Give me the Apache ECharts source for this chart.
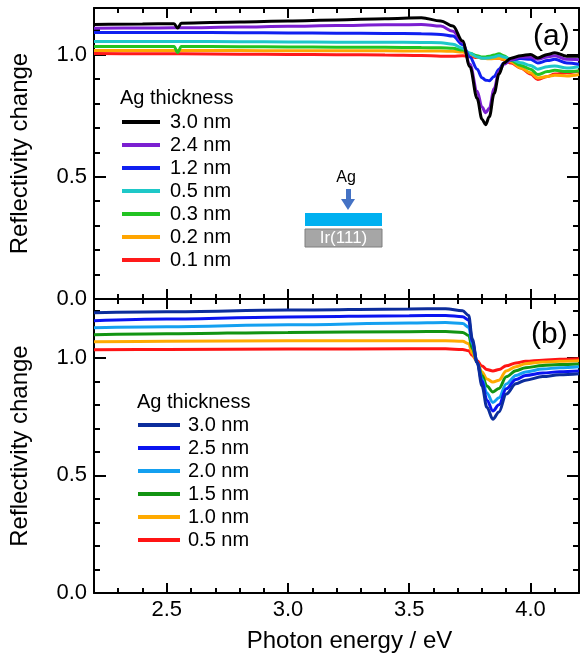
<!DOCTYPE html>
<html>
<head>
<meta charset="utf-8">
<script src="https://cdn.jsdelivr.net/npm/echarts@6/dist/echarts.min.js"></script>
<style>html,body{margin:0;padding:0;background:#fff}#c{width:581px;height:656px}</style>
</head>
<body>
<div id="c"></div>
<script>
// ---------- data ----------
const topE = [2.2, 2.4, 2.53, 2.545, 2.56, 2.8, 3.0, 3.2, 3.4, 3.55, 3.63, 3.68, 3.72, 3.75, 3.78, 3.80, 3.815, 3.83, 3.85, 3.87, 3.89, 3.92, 3.96, 4.0, 4.03, 4.07, 4.1, 4.15, 4.2];
const topNames = ['3.0 nm', '2.4 nm', '1.2 nm', '0.5 nm', '0.3 nm', '0.2 nm', '0.1 nm'];
const top30 = [1.123,1.125,1.126,1.108,1.128,1.133,1.137,1.141,1.146,1.150,1.137,1.116,1.055,0.95,0.82,0.735,0.713,0.745,0.84,0.92,0.965,0.985,0.995,1.0,0.986,1.0,1.007,0.993,0.993];
const top24 = [1.107,1.108,1.109,1.109,1.109,1.112,1.115,1.118,1.121,1.123,1.116,1.095,1.05,0.96,0.85,0.785,0.762,0.78,0.86,0.93,0.96,0.978,0.99,0.99,0.98,0.99,0.995,0.98,0.978];
const top12 = [1.090,1.090,1.090,1.090,1.090,1.089,1.088,1.087,1.086,1.085,1.082,1.075,1.04,0.99,0.94,0.905,0.895,0.893,0.91,0.94,0.965,0.978,0.983,0.98,0.965,0.975,0.98,0.965,0.96];
const top05 = [1.053,1.053,1.053,1.053,1.053,1.052,1.051,1.050,1.050,1.049,1.048,1.042,1.025,1.005,0.99,0.985,0.985,0.986,0.99,0.996,0.99,0.98,0.966,0.955,0.94,0.95,0.953,0.945,0.95];
const top03 = [1.033,1.033,1.033,1.008,1.033,1.032,1.031,1.030,1.029,1.028,1.027,1.025,1.018,1.005,0.995,0.99,0.99,0.993,0.998,1.003,0.995,0.975,0.955,0.94,0.918,0.93,0.935,0.93,0.932];
const top02 = [1.016,1.016,1.016,1.016,1.016,1.016,1.015,1.015,1.015,1.014,1.014,1.013,1.01,1.0,0.99,0.985,0.983,0.982,0.983,0.985,0.98,0.97,0.945,0.925,0.904,0.91,0.915,0.912,0.918];
const top01 = [1.004,1.003,1.003,1.003,1.003,1.001,1.0,0.999,0.998,0.996,0.993,0.993,0.995,0.992,0.988,0.986,0.986,0.986,0.985,0.985,0.978,0.965,0.945,0.92,0.898,0.91,0.92,0.925,0.932];

const botE = [2.2, 2.5, 3.0, 3.5, 3.65, 3.72, 3.745, 3.76, 3.78, 3.80, 3.82, 3.845, 3.87, 3.90, 3.94, 3.98, 4.05, 4.12, 4.2];
const botNames = ['3.0 nm', '2.5 nm', '2.0 nm', '1.5 nm', '1.0 nm', '0.5 nm'];
const bot30 = [1.192,1.196,1.203,1.208,1.209,1.20,1.18,1.08,0.98,0.88,0.79,0.739,0.77,0.846,0.89,0.905,0.92,0.928,0.932];
const bot25 = [1.158,1.165,1.174,1.179,1.18,1.175,1.16,1.07,0.98,0.90,0.82,0.774,0.80,0.868,0.908,0.925,0.935,0.941,0.944];
const bot20 = [1.128,1.132,1.14,1.148,1.15,1.146,1.13,1.06,0.98,0.91,0.85,0.81,0.83,0.889,0.925,0.94,0.952,0.958,0.962];
const bot15 = [1.098,1.102,1.108,1.111,1.112,1.108,1.095,1.04,0.98,0.925,0.88,0.855,0.87,0.919,0.945,0.958,0.967,0.971,0.974];
const bot10 = [1.068,1.07,1.072,1.073,1.073,1.07,1.06,1.02,0.98,0.94,0.91,0.897,0.905,0.944,0.962,0.975,0.982,0.985,0.987];
const bot05 = [1.034,1.035,1.037,1.038,1.038,1.035,1.03,1.01,0.987,0.965,0.95,0.944,0.95,0.966,0.978,0.985,0.99,0.994,0.996];

// ---------- styling ----------
const FONT = 'Liberation Sans, Arial, sans-serif';
const topColors = ['#000000', '#7B1FD1', '#1020F0', '#1EC8C8', '#22C322', '#FFA500', '#FF1A1A'];
const botColors = ['#0C2D9C', '#0A14F0', '#14A0F0', '#129412', '#FFAA00', '#FF1414'];
const topVals = [top30, top24, top12, top05, top03, top02, top01];
const botVals = [bot30, bot25, bot20, bot15, bot10, bot05];

function pairs(xs, ys) { return xs.map((x, i) => [x, ys[i]]); }

const series = [];
for (let i = topVals.length - 1; i >= 0; i--) {
  series.push({
    name: 'a:' + topNames[i], type: 'line', xAxisIndex: 0, yAxisIndex: 0,
    data: pairs(topE, topVals[i]), showSymbol: false, symbol: 'none',
    smooth: 0.35, smoothMonotone: 'x',
    lineStyle: { width: 3, color: topColors[i] }, itemStyle: { color: topColors[i] }
  });
}
for (let i = botVals.length - 1; i >= 0; i--) {
  series.push({
    name: 'b:' + botNames[i], type: 'line', xAxisIndex: 2, yAxisIndex: 2,
    data: pairs(botE, botVals[i]), showSymbol: false, symbol: 'none',
    smooth: 0.35, smoothMonotone: 'x',
    lineStyle: { width: 3, color: botColors[i] }, itemStyle: { color: botColors[i] }
  });
}

const axisLine = { show: true, onZero: false, lineStyle: { color: '#000', width: 2 } };
function xAx(grid, pos, labels) {
  return {
    type: 'value', gridIndex: grid, position: pos, min: 2.2, max: 4.2, splitNumber: 4,
    axisLine: axisLine,
    axisTick: { show: true, inside: true, length: 10, lineStyle: { color: '#000', width: 2 } },
    minorTick: { show: true, splitNumber: 5, length: 5, lineStyle: { color: '#000', width: 2 } },
    axisLabel: { show: labels, showMinLabel: false, showMaxLabel: false, color: '#000', fontSize: 22, fontFamily: FONT, margin: 6,
      formatter: v => v.toFixed(1) },
    splitLine: { show: false },
    name: labels ? 'Photon energy / eV' : '', nameLocation: 'middle', nameGap: 36,
    nameTextStyle: { color: '#000', fontSize: 24, fontFamily: FONT, padding: [0, 0, 0, 26] }
  };
}
function yAx(grid, pos, max, labels) {
  return {
    type: 'value', gridIndex: grid, position: pos, min: 0, max: max, interval: 0.5,
    axisLine: axisLine,
    axisTick: { show: true, inside: true, length: 12, lineStyle: { color: '#000', width: 2 } },
    minorTick: { show: true, splitNumber: 5, length: 6, lineStyle: { color: '#000', width: 2 } },
    axisLabel: { show: labels, showMaxLabel: false, color: '#000', fontSize: 22, fontFamily: FONT, margin: 7,
      formatter: v => v.toFixed(1) },
    splitLine: { show: false },
    name: labels ? 'Reflectivity change' : '', nameLocation: 'middle', nameGap: 62,
    nameTextStyle: { color: '#000', fontSize: 24, fontFamily: FONT }
  };
}

const legendCommon = {
  orient: 'vertical', icon: 'rect', itemHeight: 4, padding: 0, itemGap: 3,
  selectedMode: false, formatter: n => n.slice(2)
};

const option = {
  animation: false,
  backgroundColor: '#fff',
  grid: [
    { left: 93, top: 8, width: 486, height: 291 },
    { left: 93, top: 299, width: 486, height: 294 }
  ],
  xAxis: [xAx(0, 'bottom', false), xAx(0, 'top', false), xAx(1, 'bottom', true), xAx(1, 'top', false)],
  yAxis: [yAx(0, 'left', 1.19, true), yAx(0, 'right', 1.19, false), yAx(1, 'left', 1.25, true), yAx(1, 'right', 1.25, false)],
  legend: [
    Object.assign({}, legendCommon, { left: 122, top: 112, itemWidth: 38, data: topNames.map(n => 'a:' + n),
      textStyle: { color: '#000', fontSize: 20, fontFamily: FONT, lineHeight: 20, padding: [0, 0, 0, 5] } }),
    Object.assign({}, legendCommon, { left: 138, top: 415, itemWidth: 42, data: botNames.map(n => 'b:' + n),
      textStyle: { color: '#000', fontSize: 20, fontFamily: FONT, lineHeight: 20, padding: [0, 0, 0, 3] } })
  ],
  graphic: [
    { type: 'text', left: 120, top: 88, style: { text: 'Ag thickness', fill: '#000', font: '20px ' + FONT } },
    { type: 'text', left: 137, top: 392, style: { text: 'Ag thickness', fill: '#000', font: '20px ' + FONT } },
    { type: 'text', left: 533, top: 22, style: { text: '(a)', fill: '#000', font: '30px ' + FONT } },
    { type: 'text', left: 531, top: 320, style: { text: '(b)', fill: '#000', font: '30px ' + FONT } },
    { type: 'text', x: 346, y: 178, style: { text: 'Ag', fill: '#000', font: '16px ' + FONT, align: 'center', verticalAlign: 'middle' } },
    { type: 'rect', shape: { x: 346, y: 189, width: 5, height: 11 }, style: { fill: '#4472C4' } },
    { type: 'polygon', shape: { points: [[341, 199], [355, 199], [348, 210]] }, style: { fill: '#4472C4' } },
    { type: 'rect', shape: { x: 305, y: 213, width: 77, height: 13 }, style: { fill: '#00B0F0' } },
    { type: 'rect', shape: { x: 305, y: 229, width: 77, height: 18 }, style: { fill: '#A6A6A6', stroke: '#7F7F7F', lineWidth: 1 } },
    { type: 'text', x: 343.5, y: 238.5, style: { text: 'Ir(111)', fill: '#fff', font: '17px ' + FONT, align: 'center', verticalAlign: 'middle' } }
  ],
  series: series
};

const chart = echarts.init(document.getElementById('c'), null, { renderer: 'canvas' });
chart.setOption(option);
</script>
</body>
</html>
